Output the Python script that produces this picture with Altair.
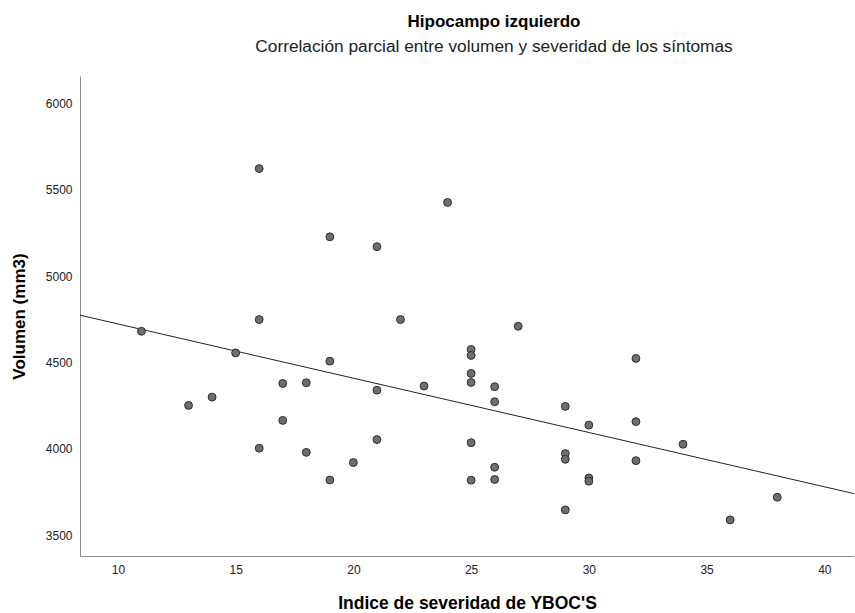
import altair as alt
import pandas as pd

# YBOC'S severity index (x) and left hippocampus volume in mm3 (y)
yboc = [11, 13, 14, 15,
        16, 16, 16, 17, 17, 18, 18, 19, 19, 19, 20,
        21, 21, 21, 22, 23, 24,
        25, 25, 25, 25, 25, 25,
        26, 26, 26, 26, 27,
        29, 29, 29, 29, 30, 30, 30,
        32, 32, 32, 34, 36, 38]
volumen = [4680, 4251, 4299, 4555,
           5622, 4748, 4003, 4378, 4164, 4382, 3979, 5227, 4507, 3819, 3920,
           5170, 4339, 4053, 4748, 4363, 5426,
           4575, 4540, 4436, 4384, 4035, 3818,
           4359, 4272, 3893, 3822, 4709,
           4245, 3972, 3939, 3646, 4137, 3831, 3812,
           4523, 4157, 3931, 4026, 3588, 3719]

x_ticks = [10, 15, 20, 25, 30, 35, 40]
y_ticks = [3500, 4000, 4500, 5000, 5500, 6000]
x_domain = [8.39, 41.26]
y_domain = [3379, 6158]

df = pd.DataFrame({"yboc": yboc, "volumen": volumen})

FONT = "Liberation Sans"

x_enc = alt.X("yboc:Q",
              scale=alt.Scale(domain=x_domain, nice=False, zero=False),
              axis=alt.Axis(values=x_ticks, format="d", title="Indice de severidad de YBOC'S",
                            titlePadding=19, titleFontSize=17.5))
y_enc = alt.Y("volumen:Q",
              scale=alt.Scale(domain=y_domain, nice=False, zero=False),
              axis=alt.Axis(values=y_ticks, format="d", title="Volumen (mm3)",
                            titlePadding=17, titleFontSize=17))

base = alt.Chart(df)

points = base.mark_point(filled=True, fill="#6e6e6e", stroke="#2e2e2e",
                         strokeWidth=1, size=62, opacity=1,
                         fillOpacity=1, strokeOpacity=1).encode(x=x_enc, y=y_enc)

fit = base.transform_regression("yboc", "volumen", extent=x_domain).mark_line(
    color="#222222", strokeWidth=1, clip=True).encode(x=x_enc, y=y_enc)

chart = alt.layer(fit, points).properties(
    width=774, height=480,
    title=alt.TitleParams(
        "Hipocampo izquierdo",
        subtitle="Correlación parcial entre volumen y severidad de los síntomas",
        anchor="middle", frame="group", dx=27,
        font=FONT, fontSize=17, fontWeight="bold", color="#000000",
        subtitleFont=FONT, subtitleFontSize=17.3, subtitleColor="#222222",
        subtitlePadding=7, offset=20),
    autosize=alt.AutoSizeParams(type="none"),
    padding={"left": 80, "top": 76, "right": 1, "bottom": 57},
).configure_view(strokeWidth=0).configure_axis(
    grid=False, ticks=False, domainColor="#8c8c8c", domainWidth=1,
    labelFont=FONT, labelFontSize=12, labelColor="#222222", labelPadding=8,
    titleFont=FONT, titleFontWeight="bold", titleColor="#000000",
)

chart.save("out.html", embed_options={"renderer": "svg", "actions": False})
